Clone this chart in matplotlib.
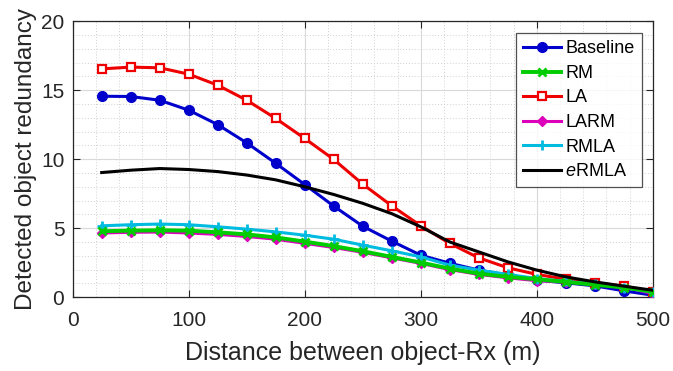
import matplotlib
matplotlib.use("Agg")
import matplotlib.pyplot as plt
from matplotlib.ticker import MultipleLocator

plt.rcParams['font.family'] = ['Liberation Sans', 'DejaVu Sans']
plt.rcParams['mathtext.fontset'] = 'custom'
plt.rcParams['mathtext.it'] = 'Liberation Sans:italic'
plt.rcParams['mathtext.rm'] = 'Liberation Sans'

distance = [25, 50, 75, 100, 125, 150, 175, 200, 225, 250, 275, 300, 325, 350, 375, 400, 425, 450, 475, 500]
baseline = [14.56, 14.54, 14.27, 13.55, 12.5, 11.18, 9.7, 8.16, 6.6, 5.14, 4.06, 3.04, 2.46, 1.96, 1.6, 1.23, 1.04, 0.82, 0.46, 0.14]
rm = [4.78, 4.82, 4.85, 4.82, 4.7, 4.55, 4.33, 4.03, 3.7, 3.33, 2.92, 2.51, 2.07, 1.71, 1.47, 1.3, 1.1, 0.9, 0.7, 0.4]
la = [16.54, 16.67, 16.62, 16.16, 15.36, 14.27, 12.95, 11.5, 9.98, 8.19, 6.62, 5.17, 3.89, 2.85, 2.13, 1.65, 1.3, 1.05, 0.8, 0.4]
larm = [4.65, 4.7, 4.72, 4.65, 4.55, 4.4, 4.2, 3.9, 3.6, 3.25, 2.85, 2.45, 2.0, 1.65, 1.4, 1.2, 1.1, 0.95, 0.75, 0.25]
rmla = [5.17, 5.25, 5.3, 5.25, 5.1, 4.93, 4.73, 4.49, 4.2, 3.77, 3.36, 2.92, 2.32, 1.96, 1.65, 1.35, 1.15, 0.95, 0.7, 0.35]
ermla = [9.03, 9.2, 9.32, 9.25, 9.1, 8.85, 8.5, 8.0, 7.44, 6.8, 6.05, 5.1, 4.0, 3.28, 2.56, 1.96, 1.47, 1.11, 0.8, 0.5]

fig = plt.figure(figsize=(6.73, 3.71), dpi=100)
ax = fig.add_axes([0.108, 0.199, 0.862, 0.744])

lw = 2.2
ax.plot(distance, baseline, color='#0000CC', lw=lw, marker='o', ms=7, label='Baseline', zorder=3)
ax.plot(distance, larm, color='#DD00BB', lw=lw, marker='D', ms=5, label='LARM', zorder=3)
ax.plot(distance, rm, color='#00CC00', lw=lw + 0.6, marker='x', ms=5.5, mew=2, label='RM', zorder=4)
ax.plot(distance, la, color='#EE0000', lw=lw, marker='s', ms=5.5, mfc='white', mew=1.6, label='LA', zorder=3)
ax.plot(distance, rmla, color='#00BBE0', lw=lw, marker='+', ms=7.5, mew=2, label='RMLA', zorder=3)
ax.plot(distance, ermla, color='black', lw=lw, label=r'$\mathit{e}$RMLA', zorder=5)

ax.set_xlim(0, 500)
ax.set_ylim(0, 20)
ax.xaxis.set_major_locator(MultipleLocator(100))
ax.yaxis.set_major_locator(MultipleLocator(5))
ax.xaxis.set_minor_locator(MultipleLocator(20))
ax.yaxis.set_minor_locator(MultipleLocator(1))
ax.grid(which='major', color='#D9D9D9', lw=0.8, ls='-')
ax.grid(which='minor', color='#D0D0D0', lw=0.7, ls=(0, (1, 2)))
ax.set_axisbelow(True)
ax.tick_params(which='both', direction='in', top=True, right=True, colors='#262626', labelsize=15)
ax.tick_params(which='minor', length=0)
ax.tick_params(axis='x', which='major', length=5, pad=10)
ax.tick_params(axis='y', which='major', length=5, pad=6)
for s in ax.spines.values():
    s.set_color('#262626')
    s.set_linewidth(0.9)

ax.set_xlabel('Distance between object-Rx (m)', fontsize=18, color='#262626', labelpad=8)
ax.set_ylabel('Detected object redundancy', fontsize=17.5, color='#262626', labelpad=3)

h, l = ax.get_legend_handles_labels()
order = ['Baseline', 'RM', 'LA', 'LARM', 'RMLA', r'$\mathit{e}$RMLA']
hd = dict(zip(l, h))
leg = ax.legend([hd[k] for k in order], order, loc='upper right', bbox_to_anchor=(0.981, 0.957),
                fontsize=13, frameon=True, fancybox=False, edgecolor='#262626',
                handlelength=2.1, handletextpad=0.25, labelspacing=0.42, borderpad=0.4,
                borderaxespad=0)
leg.get_frame().set_linewidth(0.9)

fig.savefig('out.png', dpi=100)
